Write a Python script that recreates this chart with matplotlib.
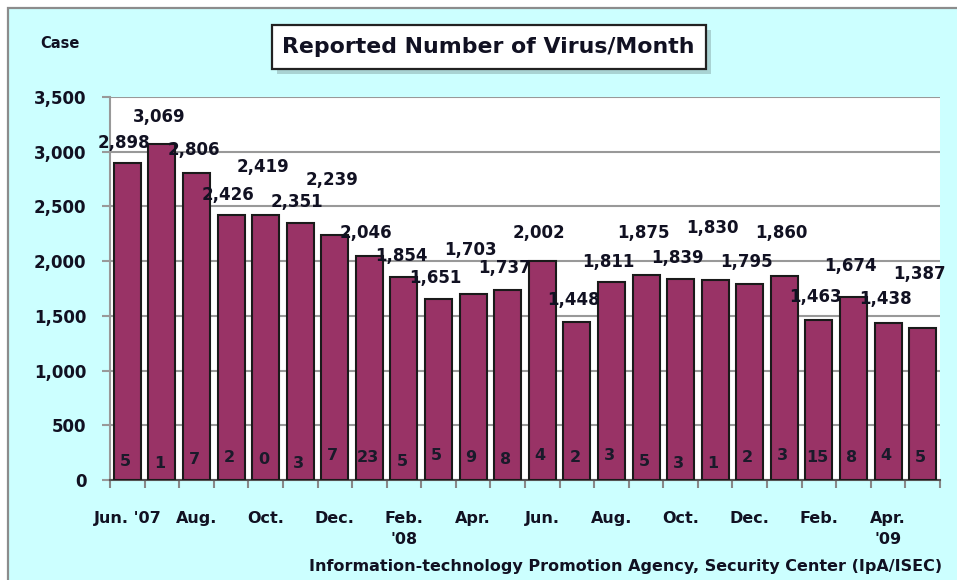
import matplotlib
matplotlib.use("Agg")
import matplotlib.pyplot as plt
from matplotlib.patches import Rectangle
from matplotlib.ticker import FuncFormatter, MultipleLocator, FixedLocator

# ---------------- data ----------------
months = ["Jun. '07", "Jul.", "Aug.", "Sep.", "Oct.", "Nov.", "Dec.", "Jan.",
          "Feb.\n'08", "Mar.", "Apr.", "May", "Jun.", "Jul.", "Aug.", "Sep.",
          "Oct.", "Nov.", "Dec.", "Jan.", "Feb.", "Mar.", "Apr.\n'09", "May"]
reported = [2898, 3069, 2806, 2426, 2419, 2351, 2239, 2046, 1854, 1651, 1703, 1737,
            2002, 1448, 1811, 1875, 1839, 1830, 1795, 1860, 1463, 1674, 1438, 1387]
small_counts = [5, 1, 7, 2, 0, 3, 7, 23, 5, 5, 9, 8,
                4, 2, 3, 5, 3, 1, 2, 3, 15, 8, 4, 5]
shown_tick_idx = [0, 2, 4, 6, 8, 10, 12, 14, 16, 18, 20, 22]
title = "Reported Number of Virus/Month"
ylabel = "Case"
footer = "Information-technology Promotion Agency, Security Center (IpA/ISEC)"

# label placement styling (pixels above bar top)
label_dy = [20, 27, 23, 20, 48, 21, 55, 23, 21, 21, 44, 22,
            28, 22, 20, 42, 21, 52, 22, 43, 23, 31, 24, 54]
# small-count label placement styling (pixels above baseline)
count_dy = [19, 17, 20, 23, 20, 17, 24, 23, 18, 24, 23, 20,
            25, 23, 25, 19, 17, 17, 23, 25, 23, 23, 25, 23]

# ---------------- style ----------------
W, H = 957, 580
BG = "#CCFFFF"
BAR = "#993366"
TXT = "#111122"
FONT = "DejaVu Sans"
plt.rcParams["font.family"] = [FONT]

fig = plt.figure(figsize=(W / 100, H / 100), dpi=100)
fig.patch.set_facecolor("white")

# background axes for cyan chart area
bg = fig.add_axes([0, 0, 1, 1], zorder=-5)
bg.set_xlim(0, W)
bg.set_ylim(H, 0)
bg.axis("off")
bg.add_patch(Rectangle((8, 8), W + 20, H + 20, facecolor=BG,
                       edgecolor="#8c8c8c", linewidth=1.6))
# title box with shadow
bx0, by0, bx1, by1 = 272, 25, 706, 69
bg.add_patch(Rectangle((bx0 + 5, by0 + 5), bx1 - bx0, by1 - by0,
                       facecolor="#7f9f9f", edgecolor="none", alpha=0.45))
bg.add_patch(Rectangle((bx0, by0), bx1 - bx0, by1 - by0, facecolor="white",
                       edgecolor="#222222", linewidth=1.6))
bg.text((bx0 + bx1) / 2 - 1, 47, title, ha="center", va="center",
        fontsize=15.8, fontweight="bold", color=TXT)
bg.text(60, 44, ylabel, ha="center", va="center", fontsize=10.5,
        fontweight="bold", color=TXT)
bg.text(942, 566, footer, ha="right", va="center", fontsize=11.5,
        fontweight="bold", color=TXT)

ax = fig.add_axes([110 / W, 100 / H, 830 / W, 383 / H], zorder=1)
ax.set_facecolor("white")
x = list(range(len(reported)))
ax.bar(x, reported, width=0.78, color=BAR, edgecolor="#1a1a1a", linewidth=1.5, zorder=3)

ax.set_xlim(-0.5, len(reported) - 0.5)
ax.set_ylim(0, 3500)
ax.yaxis.set_major_locator(MultipleLocator(500))
ax.yaxis.set_major_formatter(FuncFormatter(lambda v, p: f"{int(v):,}"))
ax.grid(axis="y", color="#999999", linewidth=1.5, zorder=0)
ax.set_axisbelow(True)

for s in ["top", "right"]:
    ax.spines[s].set_visible(False)
ax.spines["left"].set_color("#999999")
ax.spines["left"].set_linewidth(1.5)
ax.spines["bottom"].set_color("#555555")
ax.spines["bottom"].set_linewidth(1.5)

ax.tick_params(axis="y", length=6, width=1.5, color="#999999", pad=11,
               labelsize=12, labelcolor=TXT)
for t in ax.get_yticklabels():
    t.set_fontweight("bold")

ax.set_xticks([i for i in shown_tick_idx])
ax.set_xticklabels([months[i] for i in shown_tick_idx], fontsize=11.5,
                   fontweight="bold", color=TXT, linespacing=1.55, va="top")
ax.tick_params(axis="x", length=0, pad=22)
ax.xaxis.set_minor_locator(FixedLocator([i - 0.5 for i in range(len(reported) + 1)]))
ax.tick_params(axis="x", which="minor", length=6, width=1.5, color="#888888")

# value labels
for i, (v, dy) in enumerate(zip(reported, label_dy)):
    ax.annotate(f"{v:,}", xy=(i, v), xytext=(-3, dy), textcoords="offset pixels",
                ha="center", va="center", fontsize=12, fontweight="bold",
                color=TXT, zorder=5, annotation_clip=False)
for i, (c, dy) in enumerate(zip(small_counts, count_dy)):
    ax.annotate(str(c), xy=(i, 0), xytext=(-2, dy), textcoords="offset pixels",
                ha="center", va="center", fontsize=11.5, fontweight="bold",
                color="#1a1a2a", zorder=5)

fig.savefig("out.png", dpi=100, facecolor=fig.get_facecolor())
